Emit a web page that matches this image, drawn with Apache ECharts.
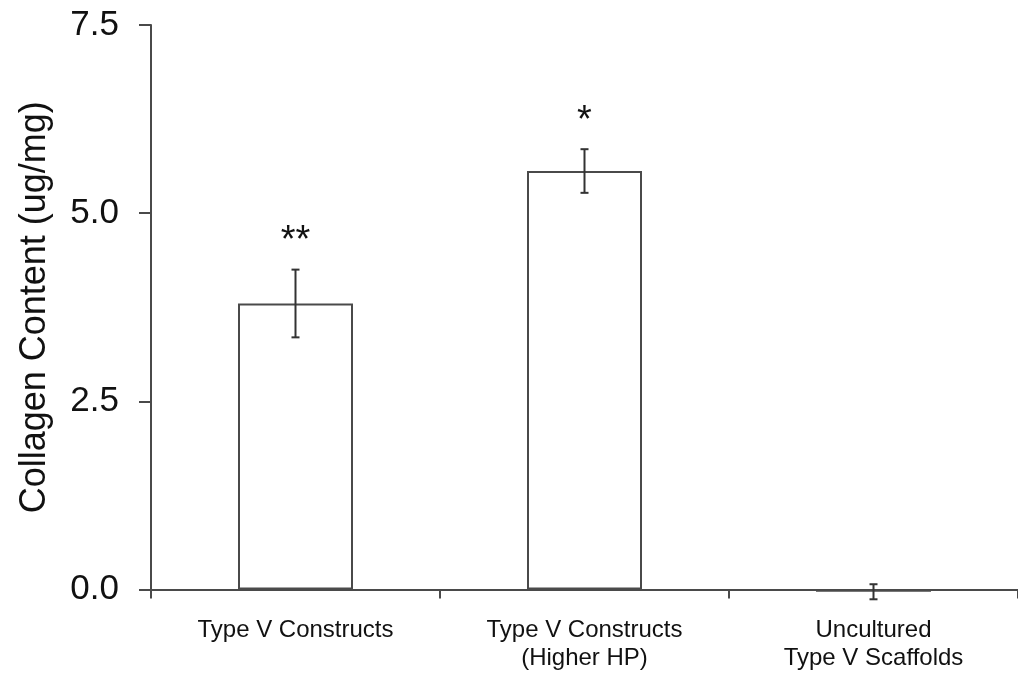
<!DOCTYPE html>
<html>
<head>
<meta charset="utf-8">
<title>Collagen Content</title>
<script src="https://cdn.jsdelivr.net/npm/echarts@6/dist/echarts.min.js"></script>
<style>
  html, body { margin: 0; padding: 0; background: #ffffff; }
  #chart { width: 1018px; height: 674px; }
</style>
</head>
<body>
<div id="chart"></div>
<script>
// Groups on the x axis
const categories = [
  'Type V Constructs',
  'Type V Constructs\n(Higher HP)',
  'Uncultured\nType V Scaffolds'
];
// Mean collagen content (ug/mg) and its error (±)
const means = [3.80, 5.56, -0.03];
const errors = [0.45, 0.29, 0.10];
// Significance markers drawn above each error bar
const sigMarks = ['**', '*', ''];
// Y axis range and step
const yMin = 0;
const yMax = 7.5;
const yStep = 2.5;

const FONT = 'Arial, "Liberation Sans", sans-serif';
const LINE = '#4a4a4a';

const errorData = means.map((m, i) => [i, m - errors[i], m + errors[i], sigMarks[i]]);

const chart = echarts.init(document.getElementById('chart'), null, { renderer: 'canvas' });

chart.setOption({
  animation: false,
  backgroundColor: '#ffffff',
  grid: { left: 151, top: 25, right: -3, bottom: 84.5, containLabel: false },
  xAxis: {
    type: 'category',
    data: categories,
    axisLine: { show: true, onZero: false, lineStyle: { color: LINE, width: 2 } },
    axisTick: { show: true, alignWithLabel: false, length: 9, lineStyle: { color: LINE, width: 2 } },
    axisLabel: {
      color: '#111111', fontFamily: FONT, fontSize: 24, lineHeight: 28, margin: 27, interval: 0
    },
    splitLine: { show: false }
  },
  yAxis: {
    type: 'value',
    min: yMin,
    max: yMax,
    interval: yStep,
    name: 'Collagen Content (ug/mg)',
    nameLocation: 'middle',
    nameGap: 98,
    nameTextStyle: { color: '#111111', fontFamily: FONT, fontSize: 36 },
    axisLine: { show: true, lineStyle: { color: LINE, width: 2 } },
    axisTick: { show: true, length: 12, lineStyle: { color: LINE, width: 2 } },
    axisLabel: {
      color: '#111111', fontFamily: FONT, fontSize: 35, margin: 32,
      formatter: v => v.toFixed(1)
    },
    splitLine: { show: false }
  },
  series: [
    {
      type: 'bar',
      data: means,
      barWidth: 115,
      clip: false,
      itemStyle: { color: '#ffffff', borderColor: LINE, borderWidth: 2 },
      z: 2
    },
    {
      type: 'custom',
      data: errorData,
      clip: false,
      z: 3,
      renderItem: function (params, api) {
        const x = api.value(0);
        const lo = api.coord([x, api.value(1)]);
        const hi = api.coord([x, api.value(2)]);
        const cap = 4;
        const style = { stroke: '#333333', lineWidth: 2 };
        const children = [
          { type: 'line', shape: { x1: hi[0], y1: hi[1], x2: lo[0], y2: lo[1] }, style: style },
          { type: 'line', shape: { x1: hi[0] - cap, y1: hi[1], x2: hi[0] + cap, y2: hi[1] }, style: style },
          { type: 'line', shape: { x1: lo[0] - cap, y1: lo[1], x2: lo[0] + cap, y2: lo[1] }, style: style }
        ];
        const mark = api.value(3);
        if (mark) {
          children.push({
            type: 'text',
            style: {
              text: mark, x: hi[0], y: hi[1] - 28,
              align: 'center', verticalAlign: 'middle',
              fill: '#111111', font: '38px ' + FONT
            }
          });
        }
        return { type: 'group', children: children };
      }
    }
  ]
});
</script>
</body>
</html>
